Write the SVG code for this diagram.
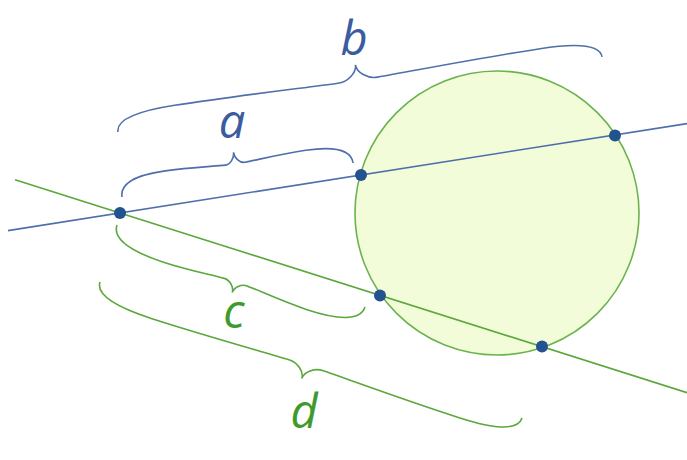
<svg xmlns="http://www.w3.org/2000/svg" width="687" height="460" viewBox="0 0 687 460">
<style>
.bl{stroke:#4f6fab;stroke-width:1.6;fill:none}
.gl{stroke:#5aa83c;stroke-width:1.6;fill:none}
.dot{fill:#22528f}
.lbl{font-family:"Open Sans","DejaVu Sans",sans-serif;font-style:italic;font-size:47px;text-anchor:middle}
.tb{fill:#3b5c9e}
.tg{fill:#3f9a2c}
</style>
<rect width="687" height="460" fill="#ffffff"/>
<g id="circle">
<circle cx="497" cy="213" r="142" fill="#f3fcd8" stroke="#6bb34f" stroke-width="1.6"/>
</g>
<g id="lines">
<line class="bl" x1="8" y1="230.6" x2="687" y2="123.6"/>
<line class="gl" x1="15" y1="179.7" x2="687" y2="392.7"/>
</g>
<g id="braces">
<path id="brace-a" class="bl" transform="translate(122,197) rotate(-8.37)" d="M0,0 C0,-11.7 11.25,-19.5 45,-19.5 C69.7,-19.5 94.4,-17 106.8,-16.5 C111.8,-16.2 116.8,-22.25 116.8,-28 C116.8,-22.25 121.8,-16.2 126.8,-16.5 C139.2,-17 163.9,-19.5 188.6,-19.5 C222.35,-19.5 233.6,-11.7 233.6,0"/>
<path id="brace-b" class="bl" transform="translate(118,132) rotate(-8.81)" d="M0,0 C0,-10.6 15,-17.7 60,-17.7 C126,-17.7 191.9,-15 224.9,-14.5 C234.9,-14.2 244.9,-22.25 244.9,-30 C244.9,-22.25 254.9,-14.2 264.9,-14.5 C297.9,-15 363.8,-17.7 429.8,-17.7 C474.8,-17.7 489.8,-10.6 489.8,0"/>
<path id="brace-c" class="gl" transform="translate(117,225) rotate(18.3)" d="M0,0 C0,12.4 13.75,20.7 55,20.7 C80.4,20.7 105.9,17.5 118.6,17 C124.6,16.7 130.6,22.5 130.6,28 C130.6,22.5 136.6,16.7 142.6,17 C155.3,17.5 180.8,20.7 206.2,20.7 C247.45,20.7 261.2,12.4 261.2,0"/>
<path id="brace-d" class="gl" transform="translate(100,282) rotate(17.86)" d="M0,0 C0,11.4 15,19 60,19 C117.5,19 175,16.5 203.7,16 C212.7,15.7 221.7,23 221.7,30 C221.7,23 230.7,15.7 239.7,16 C268.4,16.5 325.9,19 383.4,19 C428.4,19 443.4,11.4 443.4,0"/>
</g>
<g id="points">
<circle class="dot" cx="120" cy="213" r="6"/>
<circle class="dot" cx="361" cy="175" r="6"/>
<circle class="dot" cx="615" cy="135.5" r="6"/>
<circle class="dot" cx="380" cy="295.5" r="6"/>
<circle class="dot" cx="542" cy="346.5" r="6"/>
</g>
<g id="labels">
<text class="lbl tb" x="232" y="138">a</text>
<text class="lbl tb" x="354" y="55">b</text>
<text class="lbl tg" x="234" y="328">c</text>
<text class="lbl tg" x="304" y="428">d</text>
</g>
</svg>
